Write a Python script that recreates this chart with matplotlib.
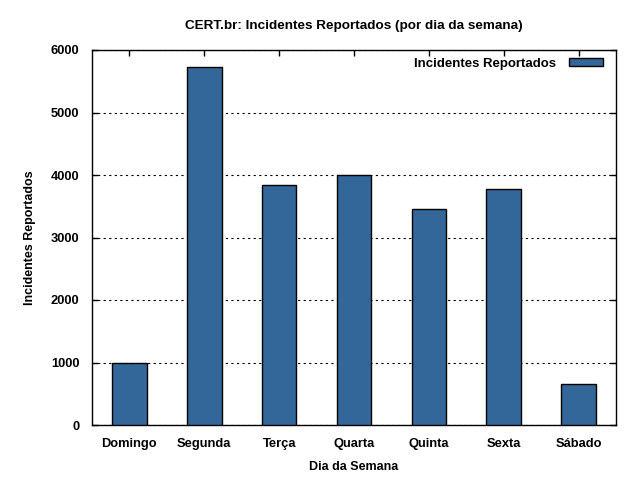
import matplotlib
matplotlib.use("Agg")
import matplotlib.pyplot as plt

days = ["Domingo", "Segunda", "Terça", "Quarta", "Quinta", "Sexta", "Sábado"]
incidents = [1000, 5730, 3840, 4000, 3455, 3775, 650]
yticks = [0, 1000, 2000, 3000, 4000, 5000, 6000]

plt.rcParams['font.family'] = ['Liberation Sans', 'DejaVu Sans']
plt.rcParams['font.weight'] = 'bold'
plt.rcParams['font.size'] = 8.5

fig = plt.figure(figsize=(6.4, 4.8), dpi=100)
ax = fig.add_axes([92/640, 55/480, 524/640, 375/480])

x = list(range(len(days)))
ax.bar(x, incidents, width=0.46, color="#336699", edgecolor="black", linewidth=1.0,
       label="Incidentes Reportados", zorder=3)

ax.set_xlim(-0.5, len(days) - 0.5)
ax.set_ylim(0, 6000)
ax.set_yticks(yticks)
ax.set_xticks(x)
ax.set_xticklabels(days)
ax.yaxis.grid(True, linestyle=(0, (2, 3)), color="black", linewidth=0.8, zorder=0)
ax.set_axisbelow(True)
ax.tick_params(direction="in", length=4, width=1, top=True, right=True, labelsize=9.3)
ax.tick_params(axis="x", pad=9.5)
ax.tick_params(axis="y", pad=9)
for s in ax.spines.values():
    s.set_linewidth(1.0)

ax.set_title("CERT.br: Incidentes Reportados (por dia da semana)", fontweight="bold",
             fontsize=9.7, pad=15)
ax.set_xlabel("Dia da Semana", fontweight="bold", fontsize=9, labelpad=8)
ax.set_ylabel("Incidentes Reportados", fontweight="bold", fontsize=9, labelpad=10.5)

leg = ax.legend(loc="upper right", bbox_to_anchor=(1 - 4/524, 1.0 + 1/375),
                frameon=False, markerfirst=False,
                handlelength=2.6, handleheight=0.6, handletextpad=1.0,
                borderaxespad=0.15, borderpad=0.5,
                prop={"size": 9.5, "weight": "bold"})

fig.savefig("out.png", dpi=100)
